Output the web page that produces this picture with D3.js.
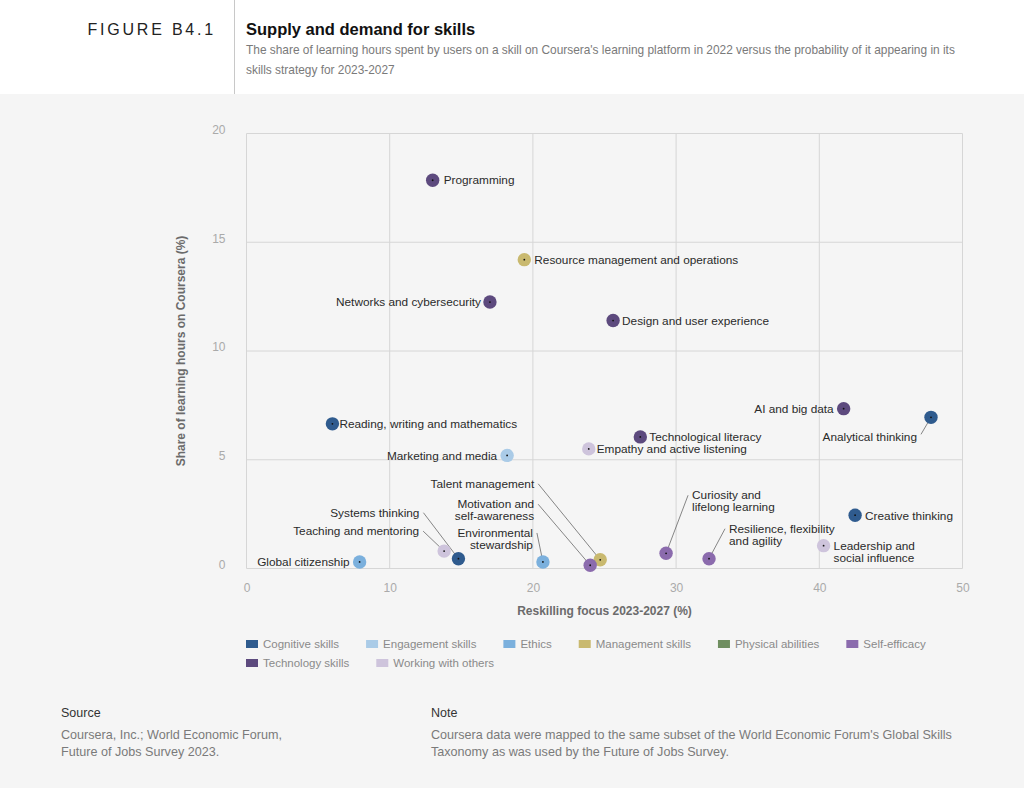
<!DOCTYPE html>
<html>
<head>
<meta charset="utf-8">
<script src="https://cdn.jsdelivr.net/npm/d3@7/dist/d3.min.js"></script>
<style>
  html, body { margin: 0; padding: 0; background: #f5f5f5; }
  body { width: 1024px; height: 788px; overflow: hidden; font-family: "Liberation Sans", Arial, Helvetica, sans-serif; }
  svg text { font-family: "Liberation Sans", Arial, Helvetica, sans-serif; }
</style>
</head>
<body>
<svg id="chart" width="1024" height="788"></svg>
<script>
// skills, one row per point
var skills = ["Programming", "Resource management and operations", "Networks and cybersecurity",
  "Design and user experience", "Reading, writing and mathematics", "Marketing and media",
  "Empathy and active listening", "Technological literacy", "AI and big data", "Analytical thinking",
  "Creative thinking", "Leadership and social influence", "Resilience, flexibility and agility",
  "Curiosity and lifelong learning", "Talent management", "Motivation and self-awareness",
  "Environmental stewardship", "Systems thinking", "Teaching and mentoring", "Global citizenship"];
var reskilling = [13.0, 19.4, 17.0, 25.6, 6.0, 18.2, 23.9, 27.5, 41.7, 47.8,
  42.5, 40.3, 32.3, 29.3, 24.7, 24.0, 20.7, 14.8, 13.8, 7.9];
var coursera = [17.85, 14.2, 12.25, 11.4, 6.65, 5.2, 5.5, 6.05, 7.35, 6.95,
  2.45, 1.05, 0.45, 0.7, 0.4, 0.15, 0.3, 0.45, 0.8, 0.3];
var skillGroup = ["Technology skills", "Management skills", "Technology skills", "Technology skills",
  "Cognitive skills", "Engagement skills", "Working with others", "Technology skills", "Technology skills",
  "Cognitive skills", "Cognitive skills", "Working with others", "Self-efficacy", "Self-efficacy",
  "Management skills", "Self-efficacy", "Ethics", "Cognitive skills", "Working with others", "Ethics"];

var groups = ["Cognitive skills", "Engagement skills", "Ethics", "Management skills",
  "Physical abilities", "Self-efficacy", "Technology skills", "Working with others"];
var groupColors = ["#2f5b8e", "#aacbe7", "#7bb0dd", "#c9b96f", "#6f8e60", "#8b6bad", "#5d4a7e", "#cec4dc"];

var xTicks = [0, 10, 20, 30, 40, 50];
var yTicks = [0, 5, 10, 15, 20];

// label placement: [dx, dy, anchor, leader] in px from the dot, lines split on "|"
var labelLayout = {
  "Programming": [11, 0, "start", false],
  "Resource management and operations": [10, 0, "start", false],
  "Networks and cybersecurity": [-9, 0, "end", false],
  "Design and user experience": [9, 0, "start", false],
  "Reading, writing and mathematics": [7, 0, "start", false],
  "Marketing and media": [-10, 0, "end", false],
  "Empathy and active listening": [8, 0, "start", false],
  "Technological literacy": [9, 0, "start", false],
  "AI and big data": [-10, 0, "end", false],
  "Analytical thinking": [-14, 20, "end", true],
  "Creative thinking": [10, 1, "start", false],
  "Leadership and|social influence": [10, 0, "start", false],
  "Resilience, flexibility|and agility": [20, -30, "start", true],
  "Curiosity and|lifelong learning": [26, -58, "start", true],
  "Talent management": [-66, -76, "end", true],
  "Motivation and|self-awareness": [-56, -61, "end", true],
  "Environmental|stewardship": [-10, -29, "end", true],
  "Systems thinking": [-39, -46, "end", true],
  "Teaching and mentoring": [-25, -20, "end", true],
  "Global citizenship": [-10, 0, "end", false]
};
var layoutKeys = Object.keys(labelLayout);

var svg = d3.select("#chart");

// header band
svg.append("rect").attr("x", 0).attr("y", 0).attr("width", 1024).attr("height", 94).attr("fill", "#ffffff");
svg.append("line").attr("x1", 234.5).attr("x2", 234.5).attr("y1", 0).attr("y2", 94)
  .attr("stroke", "#c8c8c8").attr("stroke-width", 1);
svg.append("text").attr("x", 216).attr("y", 35).attr("text-anchor", "end")
  .style("font-size", "16px").style("letter-spacing", "2.8px").attr("fill", "#222").text("FIGURE B4.1");
svg.append("text").attr("x", 246).attr("y", 35)
  .style("font-size", "16.5px").style("font-weight", "bold").attr("fill", "#111").text("Supply and demand for skills");
var sub = ["The share of learning hours spent by users on a skill on Coursera's learning platform in 2022 versus the probability of it appearing in its",
  "skills strategy for 2023-2027"];
svg.selectAll("text.sub").data(sub).enter().append("text").attr("class", "sub")
  .attr("x", 246).attr("y", function(d, i){ return 54 + i * 20; })
  .style("font-size", "11.9px").attr("fill", "#7a7a7a").text(function(d){ return d; });

// plot
var plotLeft = 246.5, plotRight = 962.5, plotTop = 133.5, plotBottom = 568.5;
var x = d3.scaleLinear().domain([0, 50]).range([plotLeft, plotRight]);
var y = d3.scaleLinear().domain([0, 20]).range([plotBottom, plotTop]);

var grid = svg.append("g");
grid.selectAll("line.vx").data(xTicks).enter().append("line").attr("class", "vx")
  .attr("x1", function(d){ return x(d); }).attr("x2", function(d){ return x(d); })
  .attr("y1", plotTop).attr("y2", plotBottom).attr("stroke", "#d6d6d6");
grid.selectAll("line.hy").data(yTicks).enter().append("line").attr("class", "hy")
  .attr("x1", plotLeft).attr("x2", plotRight)
  .attr("y1", function(d){ return y(d); }).attr("y2", function(d){ return y(d); }).attr("stroke", "#d6d6d6");

var xAxis = svg.append("g").attr("transform", "translate(0," + plotBottom + ")")
  .call(d3.axisBottom(x).tickValues(xTicks).tickSize(0).tickPadding(15));
var yAxis = svg.append("g").attr("transform", "translate(" + (plotLeft - 21) + ",-4)")
  .call(d3.axisLeft(y).tickValues(yTicks).tickSize(0).tickPadding(0));
[xAxis, yAxis].forEach(function(a){
  a.select(".domain").remove();
  a.selectAll("text").style("font-size", "12px").attr("fill", "#aaaaaa")
    .style("font-family", "'Liberation Sans', Arial, sans-serif");
});

svg.append("text").attr("x", (plotLeft + plotRight) / 2).attr("y", 615).attr("text-anchor", "middle")
  .style("font-size", "12px").style("font-weight", "bold").attr("fill", "#6b6b6b").text("Reskilling focus 2023-2027 (%)");
svg.append("text").attr("transform", "translate(185," + ((plotTop + plotBottom) / 2) + ") rotate(-90)")
  .attr("text-anchor", "middle").style("font-size", "12px").style("font-weight", "bold")
  .attr("fill", "#6b6b6b").text("Share of learning hours on Coursera (%)");

var color = d3.scaleOrdinal().domain(groups).range(groupColors);

var pts = skills.map(function(d, i){
  return { name: d, key: layoutKeys[i], x: reskilling[i], y: coursera[i], group: skillGroup[i] };
});

// leader lines
var lg = svg.append("g");
pts.forEach(function(p){
  var L = labelLayout[p.key];
  if(!L[3]) return;
  var sx = x(p.x) + L[0] + (L[2] === "end" ? 4 : -4);
  var sy = y(p.y) + L[1] + (p.key === "Analytical thinking" ? -3 : 0);
  lg.append("line").attr("x1", sx).attr("y1", sy).attr("x2", x(p.x)).attr("y2", y(p.y))
    .attr("stroke", "#555").attr("stroke-width", 0.7);
});

// dots
var dots = svg.append("g").selectAll("g").data(pts).enter().append("g");
dots.append("circle").attr("cx", function(d){ return x(d.x); }).attr("cy", function(d){ return y(d.y); })
  .attr("r", 6.7).attr("fill", function(d){ return color(d.group); });
dots.append("circle").attr("cx", function(d){ return x(d.x); }).attr("cy", function(d){ return y(d.y); })
  .attr("r", 0.9).attr("fill", "#111");

// labels
var labels = svg.append("g").selectAll("text").data(pts).enter().append("text")
  .attr("x", function(d){ return x(d.x) + labelLayout[d.key][0]; })
  .attr("y", function(d){ return y(d.y) + labelLayout[d.key][1]; })
  .attr("text-anchor", function(d){ return labelLayout[d.key][2]; })
  .style("font-size", "11.8px").attr("fill", "#2a2a2a");
labels.each(function(d){
  var t = d3.select(this);
  var lines = d.key.split("|");
  lines.forEach(function(s, i){
    t.append("tspan").attr("x", t.attr("x")).attr("dy", i === 0 ? "0.35em" : "1.02em").text(s);
  });
});

// legend, flowing rows
var legend = svg.append("g");
var lx = 246, ly = 644, gap = 27, maxX = 960;
groups.forEach(function(g, i){
  var item = legend.append("g");
  item.append("rect").attr("x", 0).attr("y", -4).attr("width", 12).attr("height", 8).attr("fill", groupColors[i]);
  var t = item.append("text").attr("x", 17).attr("y", 0).attr("dy", "0.35em")
    .style("font-size", "11.5px").attr("fill", "#8a8a8a").text(g);
  var w = 17 + t.node().getComputedTextLength();
  if(lx + w > maxX){ lx = 246; ly += 19; }
  item.attr("transform", "translate(" + lx + "," + ly + ")");
  lx += w + gap;
});

// source and note
var foot = [
  { x: 61, head: "Source", lines: ["Coursera, Inc.; World Economic Forum,", "Future of Jobs Survey 2023."] },
  { x: 431, head: "Note", lines: ["Coursera data were mapped to the same subset of the World Economic Forum's Global Skills", "Taxonomy as was used by the Future of Jobs Survey."] }
];
foot.forEach(function(f){
  svg.append("text").attr("x", f.x).attr("y", 717).style("font-size", "12.5px").attr("fill", "#333").text(f.head);
  f.lines.forEach(function(s, i){
    svg.append("text").attr("x", f.x).attr("y", 739 + i * 17).style("font-size", "12.6px").attr("fill", "#7a7a7a").text(s);
  });
});
</script>
</body>
</html>
